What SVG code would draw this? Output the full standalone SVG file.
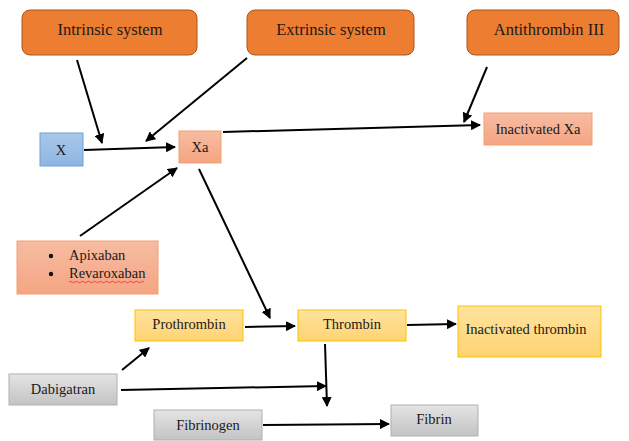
<svg xmlns="http://www.w3.org/2000/svg" width="629" height="441" viewBox="0 0 629 441">
<defs>
<linearGradient id="gSal" x1="0" y1="0" x2="0" y2="1"><stop offset="0" stop-color="#F7BCA2"/><stop offset="1" stop-color="#F4A582"/></linearGradient>
<linearGradient id="gYel" x1="0" y1="0" x2="0" y2="1"><stop offset="0" stop-color="#FFE39E"/><stop offset="1" stop-color="#FFD372"/></linearGradient>
<linearGradient id="gGry" x1="0" y1="0" x2="0" y2="1"><stop offset="0" stop-color="#E4E4E4"/><stop offset="1" stop-color="#C3C3C3"/></linearGradient>
<linearGradient id="gBlu" x1="0" y1="0" x2="0" y2="1"><stop offset="0" stop-color="#A9C8EA"/><stop offset="1" stop-color="#8DB5E2"/></linearGradient>
<marker id="ah" viewBox="0 0 10 10" refX="9" refY="5" markerWidth="5" markerHeight="5" orient="auto"><path d="M0,0 L10,5 L0,10 z" fill="#000"/></marker>
</defs>
<style>
.top{fill:#ED7D31;stroke:#A9561C;stroke-width:1}
.sal{fill:url(#gSal);stroke:#F4A070;stroke-width:1}
.yel{fill:url(#gYel);stroke:#FFC000;stroke-width:1}
.gry{fill:url(#gGry);stroke:#B0B0B0;stroke-width:1}
.blu{fill:url(#gBlu);stroke:#6FA0D8;stroke-width:1}
text{font-family:"Liberation Serif","Times New Roman",serif;fill:#1a1a1a;text-anchor:middle}
.t1{font-size:16.5px}
.t2{font-size:14.5px}
.c line{stroke:#000;stroke-width:2;marker-end:url(#ah)}
</style>
<rect width="629" height="441" fill="#fff"/>
<g id="intrinsic"><rect class="top" x="22" y="10" width="175" height="45" rx="8"/><text class="t1" x="110" y="35">Intrinsic system</text></g>
<g id="extrinsic"><rect class="top" x="247" y="10" width="167" height="45" rx="8"/><text class="t1" x="331" y="35">Extrinsic system</text></g>
<g id="antithrombin"><rect class="top" x="467" y="10" width="152" height="45" rx="8"/><text class="t1" x="549" y="35">Antithrombin III</text></g>
<g id="x"><rect class="blu" x="40" y="133" width="43" height="33"/><text class="t2" x="61" y="155">X</text></g>
<g id="xa"><rect class="sal" x="179" y="131" width="42" height="32"/><text class="t2" x="200" y="152">Xa</text></g>
<g id="inactXa"><rect class="sal" x="484" y="113" width="108" height="32"/><text class="t2" x="538" y="134">Inactivated Xa</text></g>
<g id="apixaban"><rect class="sal" x="17" y="241" width="141" height="53"/>
<circle cx="51" cy="256" r="2.2" fill="#111"/><text class="t2" x="69" y="260" style="text-anchor:start">Apixaban</text>
<circle cx="51" cy="274" r="2.2" fill="#111"/><text class="t2" x="69" y="278" style="text-anchor:start">Revaroxaban</text>
<path d="M69,282 q1.5,-1.5 3,0 t3,0 t3,0 t3,0 t3,0 t3,0 t3,0 t3,0 t3,0 t3,0 t3,0 t3,0 t3,0 t3,0 t3,0 t3,0 t3,0 t3,0 t3,0 t3,0 t3,0 t3,0 t3,0 t3,0 t3,0" fill="none" stroke="#E03030" stroke-width="0.8"/></g>
<g id="prothrombin"><rect class="yel" x="135" y="310" width="108" height="31"/><text class="t2" x="189" y="329">Prothrombin</text></g>
<g id="thrombin"><rect class="yel" x="298" y="310" width="108" height="31"/><text class="t2" x="352" y="329">Thrombin</text></g>
<g id="inactThrombin"><rect class="yel" x="458" y="306" width="143" height="51"/><text class="t2" x="526" y="334">Inactivated thrombin</text></g>
<g id="dabigatran"><rect class="gry" x="9" y="374" width="108" height="31"/><text class="t2" x="63" y="394">Dabigatran</text></g>
<g id="fibrinogen"><rect class="gry" x="154" y="410" width="108" height="30"/><text class="t2" x="208" y="430">Fibrinogen</text></g>
<g id="fibrin"><rect class="gry" x="391" y="405" width="87" height="31"/><text class="t2" x="434" y="424">Fibrin</text></g>
<g class="c" id="connectors">
<line x1="77" y1="60" x2="102" y2="143"/>
<line x1="247" y1="58" x2="146" y2="141"/>
<line x1="487" y1="67" x2="464" y2="122"/>
<line x1="84" y1="150" x2="175" y2="147"/>
<line x1="223" y1="132" x2="480" y2="125"/>
<line x1="80" y1="236" x2="177" y2="168"/>
<line x1="199" y1="169" x2="270" y2="318"/>
<line x1="245" y1="327" x2="295" y2="326"/>
<line x1="407" y1="325" x2="456" y2="324"/>
<line x1="325" y1="344" x2="327" y2="406"/>
<line x1="122" y1="370" x2="149" y2="348"/>
<line x1="121" y1="390" x2="326" y2="386"/>
<line x1="263" y1="425" x2="389" y2="424"/>
</g>
</svg>
